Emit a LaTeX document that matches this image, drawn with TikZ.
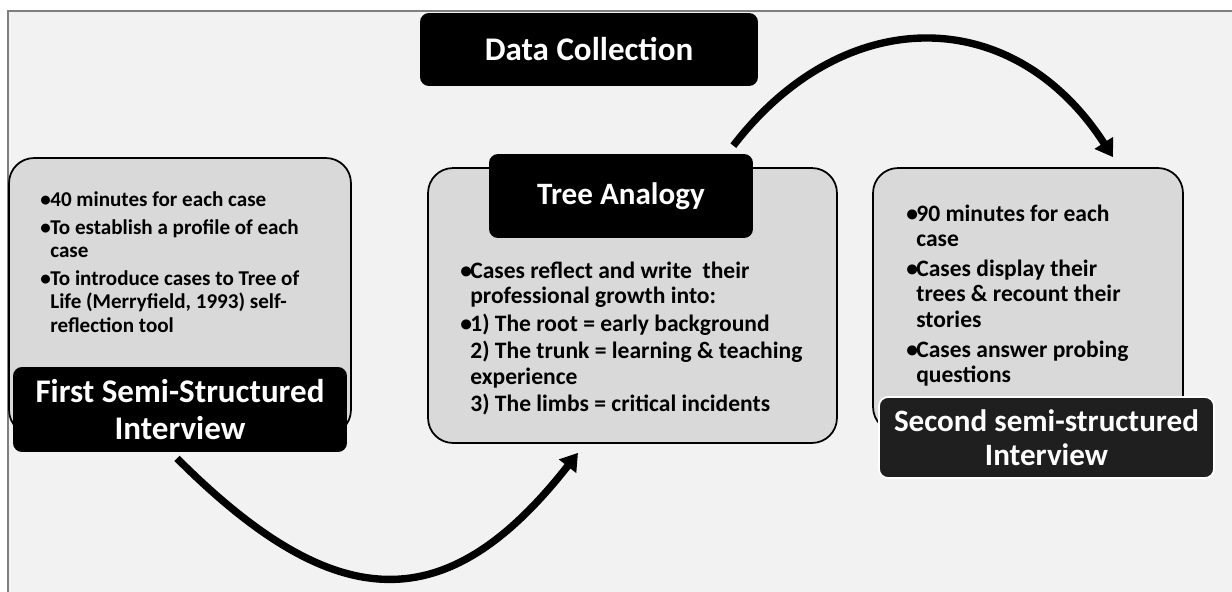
\documentclass[tikz,border=0pt]{standalone}
\usepackage{fontspec}
\setmainfont{Carlito}
\usetikzlibrary{arrows.meta}
\definecolor{pane}{HTML}{F2F2F2}
\definecolor{frame}{HTML}{7F7F7F}
\definecolor{boxfill}{HTML}{D9D9D9}
\definecolor{tagfill}{HTML}{1F1F1F}
\tikzset{
  card/.style={draw=black, line width=1pt, fill=boxfill, rounded corners=0.5cm},
  tag/.style={fill=black, text=white, rounded corners=0.18cm, align=center, inner sep=0pt},
  tagbig/.style={tag, font=\bfseries\fontsize{18.8}{21}\selectfont},
  tagmid/.style={tag, font=\bfseries\fontsize{17.7}{19.4}\selectfont},
  body/.style={font=\bfseries\fontsize{12}{13.3}\selectfont, align=left,
    anchor=base west, inner sep=0pt},
  bodybig/.style={body, font=\bfseries\fontsize{13.4}{14.6}\selectfont},
  flow/.style={line width=4.2pt, -{Triangle[length=0.34cm,width=0.42cm]}}
}
\newcommand{\bul}{\makebox[0.2cm][l]{\textbullet}}
\newcommand{\gap}{\hspace*{0.2cm}}

\begin{document}
\begin{tikzpicture}[x=0.02cm, y=-0.02cm]
\useasboundingbox (0,0) rectangle (1232,592);
% background
\fill[white] (0,0) rectangle (1232,592);
\draw[frame, fill=pane, line width=0.9pt] (8,11) rectangle (1250,610);

% grey cards
\node[card, minimum width=6.84cm, minimum height=5.54cm] (first) at (180,296.5) {};
\node[card, minimum width=8.18cm, minimum height=5.5cm] (tree) at (632.5,305.5) {};
\node[card, minimum width=6.2cm, minimum height=5.28cm] (second) at (1028,300) {};

% card texts (placed by their last line)
\node[body] (firsttxt) at (40,332) {\bul 40 minutes for each case\\[2.5pt]
  \bul To establish a profile of each\\ \gap case\\[2.5pt]
  \bul To introduce cases to Tree of\\ \gap Life (Merryfield, 1993) self-\\
  \gap reflection tool};
\node[bodybig] (treetxt) at (460,411.7) {\bul Cases reflect and write\ \ their\\
  \gap professional growth into:\\[1.5pt]
  \bul 1) The root = early background\\[0.8pt]
  \gap 2) The trunk = learning \& teaching\\ \gap experience\\[0.8pt]
  \gap 3) The limbs = critical incidents};
\node[bodybig] (secondtxt) at (906,382.7) {\bul 90 minutes for each\\ \gap case\\[2.2pt]
  \bul Cases display their\\ \gap trees \& recount their\\ \gap stories\\[2.2pt]
  \bul Cases answer probing\\ \gap questions};

% black tags
\node[tagbig, minimum width=6.76cm, minimum height=1.46cm] (dc) at (589,49.5) {Data Collection};
\node[tagbig, minimum width=6.68cm, minimum height=1.7cm] (firstlbl) at (180,409.5)
  {First Semi-Structured\\Interview};
\node[tagmid, minimum width=5.28cm, minimum height=1.68cm] (treelbl) at (621,196) {Tree Analogy};
\node[tagmid, fill=tagfill, draw=white, line width=1pt, minimum width=6.7cm, minimum height=1.62cm]
  (secondlbl) at (1046.5,437.5) {Second semi-structured\\Interview};

% arrows
\draw[flow] ([shift={(-3,6)}]firstlbl.south) .. controls +(160,160) and +(-130,166)
  .. ([shift={(-54.5,9)}]tree.south);
\draw[flow] ([shift={(-20,-8)}]treelbl.north east) .. controls +(110,-143) and +(-100,-155)
  .. ([shift={(85,-10)}]second.north);
\end{tikzpicture}
\end{document}
